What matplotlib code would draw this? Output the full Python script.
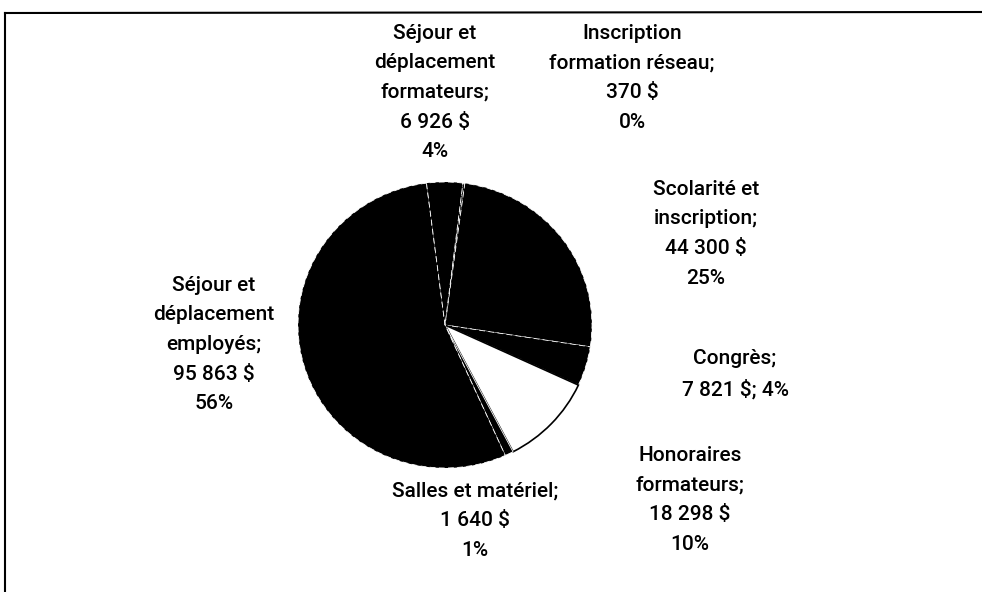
import matplotlib.pyplot as plt
import numpy as np

# budget formation (Excel-style pie, scanned)
labels = ['Inscription\nformation réseau;', 'Scolarité et\ninscription;', 'Congrès;',
          'Honoraires\nformateurs;', 'Salles et matériel;',
          'Séjour et\ndéplacement\nemployés;', 'Séjour et\ndéplacement\nformateurs;']
montants = [370, 44300, 7821, 18298, 1640, 95863, 6926]
montant_txt = ['370 $', '44 300 $', '7 821 $', '18 298 $', '1 640 $', '95 863 $', '6 926 $']
pct_txt = ['0%', '25%', '4%', '10%', '1%', '56%', '4%']
couleurs = ['black', 'black', 'black', 'white', 'black', 'black', 'black']

W, H = 982, 592
fig = plt.figure(figsize=(W / 100, H / 100), dpi=100)
plt.rcParams['font.family'] = 'Roboto'

# pie axes placed in pixels: centre (445, 325)
cx, cy, rx, ry = 445, 325, 147, 143
ax = fig.add_axes([(cx - rx) / W, (H - cy - ry) / H, 2 * rx / W, 2 * ry / H])
wedges, _ = ax.pie(montants, colors=couleurs, startangle=83, counterclock=False,
                   radius=1.0,
                   wedgeprops=dict(edgecolor='white', linewidth=0.6, linestyle=(0, (7, 4))))
wedges[3].set_edgecolor('black')
wedges[3].set_linestyle('-')
wedges[3].set_linewidth(1.2)
wedges[4].set_linestyle('-')
ax.set_aspect('auto')
ax.set_xlim(-1, 1)
ax.set_ylim(-1, 1)

# label positions (pixels, centre x / top y)
pos = [(632, 24), (706, 180), (735, 349), (690, 446), (475, 482), (214, 276), (435, 24)]
for i in range(len(labels)):
    if i == 2:
        txt = labels[i] + '\n' + montant_txt[i] + '; ' + pct_txt[i]
    else:
        txt = labels[i] + '\n' + montant_txt[i] + '\n' + pct_txt[i]
    x, y = pos[i]
    fig.text(x / W, 1 - y / H, txt, ha='center', va='top', fontsize=15,
             fontweight='medium', linespacing=1.7, color='black')

# frame of the scanned chart (partly cut)
fig.add_artist(plt.Line2D([5 / W, 1], [1 - 13 / H, 1 - 12 / H], color='black', lw=1.5,
                          transform=fig.transFigure))
fig.add_artist(plt.Line2D([5 / W, 5 / W], [1 - 13 / H, 0], color='black', lw=1.5,
                          transform=fig.transFigure))

fig.savefig('out.png', dpi=100)
